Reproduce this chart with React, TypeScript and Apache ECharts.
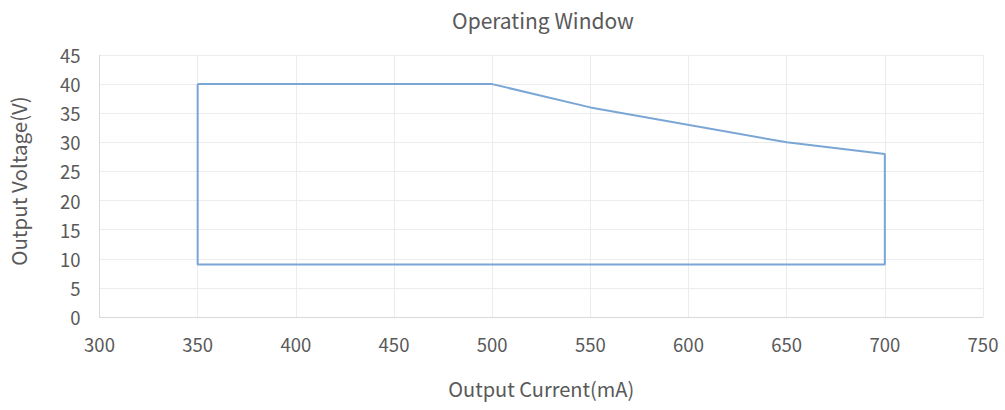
import React, { useEffect, useRef } from "react";
import * as echarts from "echarts";

const currents = [350, 500, 550, 650, 700, 700, 350, 350];
const voltages = [40, 40, 36, 30, 28, 9, 9, 40];
const titleText = "Operating Window";
const xName = "Output Current(mA)";
const yName = "Output Voltage(V)";

export default function App() {
  const ref = useRef<HTMLDivElement>(null);
  useEffect(() => {
    if (!ref.current) return;
    const chart = echarts.init(ref.current, undefined, { renderer: "svg" });
    const font = "'Noto Sans CJK SC', 'Noto Sans', sans-serif";
    const txt = "#595959";
    chart.setOption({
      animation: false,
      title: {
        text: titleText,
        left: 538,
        textAlign: "center",
        top: 4,
        textStyle: { fontFamily: font, fontSize: 21, fontWeight: "normal", color: txt },
      },
      grid: { left: 99.5, right: 22, top: 55, bottom: 93 },
      xAxis: {
        type: "value",
        min: 300,
        max: 750,
        interval: 50,
        name: xName,
        nameLocation: "middle",
        nameGap: 61,
        nameTextStyle: { fontFamily: font, fontSize: 20, color: txt },
        axisLine: { show: true, lineStyle: { color: "#d9d9d9", width: 1 } },
        axisTick: { show: false },
        axisLabel: { fontFamily: font, fontSize: 18.5, color: txt, margin: 18 },
        splitLine: { show: true, lineStyle: { color: "#ececec", width: 1 } },
      },
      yAxis: {
        type: "value",
        min: 0,
        max: 45,
        interval: 5,
        name: yName,
        nameLocation: "middle",
        nameGap: 71,
        nameTextStyle: { fontFamily: font, fontSize: 20.5, color: txt, padding: [0, 0, 0, 10] },
        axisLine: { show: true, lineStyle: { color: "#d9d9d9", width: 1 } },
        axisTick: { show: false },
        axisLabel: { fontFamily: font, fontSize: 18.5, color: txt, margin: 19 },
        splitLine: { show: true, lineStyle: { color: "#ececec", width: 1 } },
      },
      series: [
        {
          type: "line",
          data: currents.map((c, i) => [c, voltages[i]]),
          showSymbol: false,
          lineStyle: { color: "#7aa6d6", width: 2 },
          itemStyle: { color: "#7aa6d6" },
        },
      ],
    });
    return () => chart.dispose();
  }, []);
  return <div ref={ref} style={{ width: 1005, height: 410, position: "absolute", left: 0, top: 0 }} />;
}
